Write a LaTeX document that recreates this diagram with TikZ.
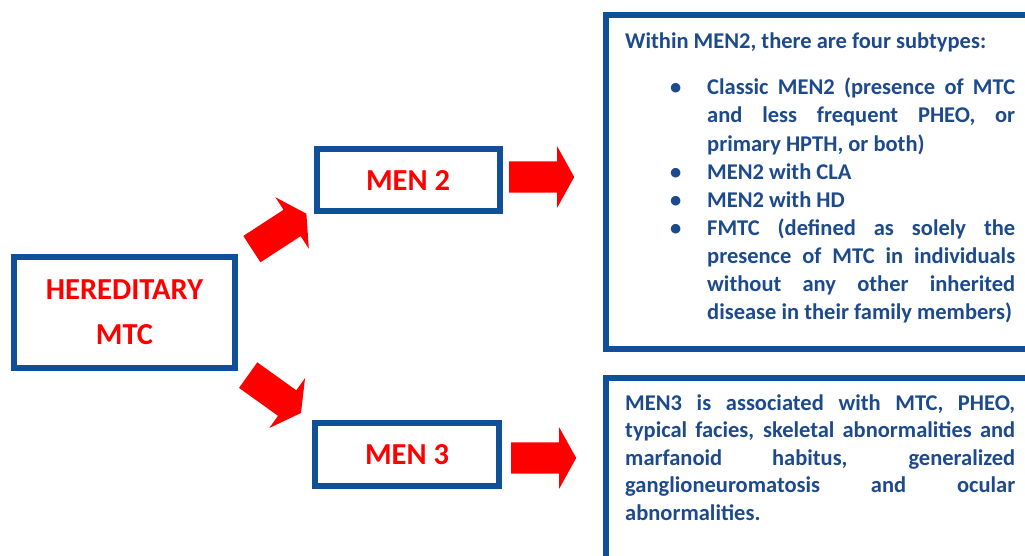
\documentclass[tikz,border=0pt]{standalone}
\usepackage{fontspec}
\setmainfont{Carlito}
\usetikzlibrary{shapes.arrows}
\definecolor{menblue}{RGB}{16,80,152}
\definecolor{mentext}{RGB}{28,74,140}
\definecolor{menred}{RGB}{255,0,0}
% bullet line with hanging indent
\newcommand{\menitem}[1]{\par\hangindent=82pt\hangafter=0\noindent\llap{\makebox[37pt][l]{\textbullet}}#1\par}
\begin{document}
\begin{tikzpicture}[x=1pt,y=-1pt,
menbox/.style={draw=menblue,line width=6pt,rectangle,inner sep=0pt,text=menred,font={\fontsize{30.5}{45}\selectfont\bfseries},align=center},
infobox/.style={draw=menblue,line width=6.5pt,rectangle,inner sep=0pt},
infotext/.style={text=mentext,font={\fontsize{22.5}{28.1}\selectfont\bfseries},text width=390pt,align=justify,inner sep=0pt,anchor=base west},
redarrow/.style={single arrow,fill=menred,inner sep=0pt,inner ysep=15.5pt,minimum height=65pt,single arrow head extend=15pt,single arrow tip angle=122,anchor=tail}]
\useasboundingbox (0,0) rectangle (1025,555);
\clip (0,0) rectangle (1025,555);
\node[menbox,minimum width=221pt,minimum height=111pt] (hered) at (124.5,312.5) {HEREDITARY\\MTC};
\node[menbox,minimum width=183pt,minimum height=62pt] (men2) at (408,180) {MEN 2};
\node[menbox,minimum width=184pt,minimum height=63pt] (men3) at (407,454.5) {MEN 3};
\node[infobox,minimum width=439pt,minimum height=334pt] (info2) at (825.5,182) {};
\node[infobox,minimum width=439pt,minimum height=197pt] (info3) at (825.5,476.5) {};
% block arrows
\node[redarrow,rotate=33] (up) at (251.7,249.2) {};
\node[redarrow,rotate=-35.6] (down) at (248,375) {};
\node[redarrow] (to2) at (509,177) {};
\node[redarrow] (to3) at (511,458) {};
% texts of the right boxes
\node[infotext] (txt2) at (625,48) {Within MEN2, there are four subtypes:\par\vspace{18.7pt}
\menitem{Classic MEN2 (presence of MTC\linebreak and less frequent PHEO, or\linebreak primary HPTH, or both)}
\menitem{MEN2 with CLA}
\menitem{MEN2 with HD}
\menitem{FMTC (defined as solely the\linebreak presence of MTC in individuals\linebreak without any other inherited\linebreak disease in their family members)}};
\node[infotext,font={\fontsize{22.5}{27.5}\selectfont\bfseries}] (txt3) at (625,410) {MEN3 is associated with MTC, PHEO,\linebreak typical facies, skeletal abnormalities and\linebreak marfanoid habitus, generalized\linebreak ganglioneuromatosis and ocular\linebreak abnormalities.};
\end{tikzpicture}
\end{document}
